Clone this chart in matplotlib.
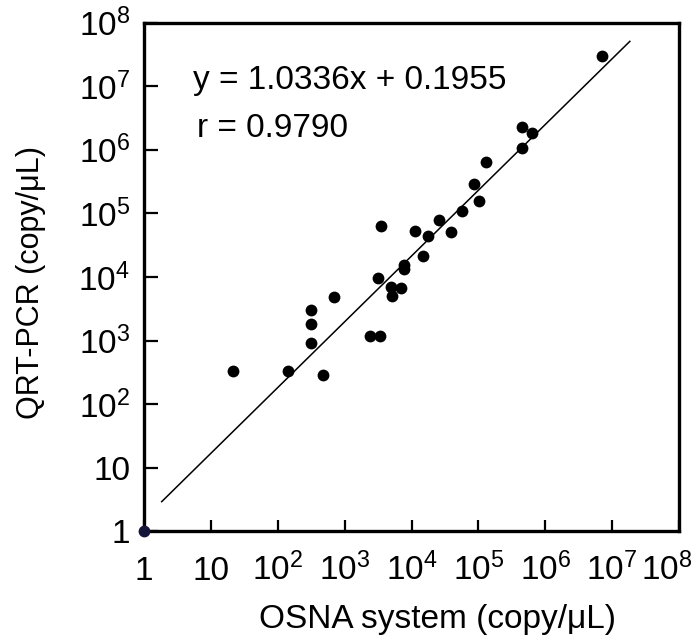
import matplotlib
matplotlib.use("Agg")
import matplotlib.pyplot as plt
import numpy as np

plt.rcParams['font.family'] = ['Liberation Sans', 'DejaVu Sans']
plt.rcParams['mathtext.fontset'] = 'custom'
plt.rcParams['mathtext.rm'] = 'Liberation Sans'
plt.rcParams['mathtext.it'] = 'Liberation Sans'

# Data (copy/uL)
osna = [21.6, 141, 310, 310, 310, 479, 686, 2420, 3400, 3110,
        3490, 4880, 6870, 5040, 7690, 7690, 14700, 11400, 17800, 25400,
        39300, 56600, 101000, 86500, 128000, 443000, 443000, 637000, 7.1e6]
qrt = [334, 334, 3040, 1810, 931, 289, 4810, 1190, 1190, 9680,
       64300, 7060, 6670, 5050, 15500, 13200, 21500, 53700, 44300, 79100,
       51800, 108000, 159000, 291000, 652000, 1060000, 2260000, 1820000, 3.03e7]
origin_pt = [1.0]

# Regression line (log10 y = slope*log10 x + intercept)
slope = 1.0336
intercept = 0.1955
line_x = [1.84, 1.84e7]
line_y = [10 ** (slope * np.log10(v) + intercept) for v in line_x]

tick_vals = [1, 10, 1e2, 1e3, 1e4, 1e5, 1e6, 1e7, 1e8]
tick_labels = ['1', '10', r'$\mathregular{10^2}$', r'$\mathregular{10^3}$',
               r'$\mathregular{10^4}$', r'$\mathregular{10^5}$',
               r'$\mathregular{10^6}$', r'$\mathregular{10^7}$',
               r'$\mathregular{10^8}$']

FS = 24

fig = plt.figure(figsize=(6.93, 6.44), dpi=100)
ax = fig.add_axes([0.2078, 0.1747, 0.7720, 0.7903])
ax.set_xscale('log')
ax.set_yscale('log')
ax.set_xlim(1, 1e8)
ax.set_ylim(1, 1e8)

ax.plot(line_x, line_y, color='black', lw=1.1)
ax.plot(osna, qrt, 'o', color='black', markersize=8.5, markeredgewidth=0)
ax.plot(origin_pt, origin_pt, 'o', color='#15153a', markersize=8.5,
        markeredgewidth=0, clip_on=False, zorder=5)

ax.set_xticks(tick_vals)
ax.set_xticklabels(tick_labels[:-1] + [''])
ax.set_yticks(tick_vals)
ax.set_yticklabels(tick_labels)
ax.minorticks_off()

for s in ax.spines.values():
    s.set_linewidth(2.4)

XPAD = 35
ax.tick_params(axis='x', direction='in', length=8, width=1.6, labelsize=FS, pad=XPAD)
ax.tick_params(axis='y', direction='in', length=10, width=1.6, labelsize=FS, pad=10)
for lab in ax.get_xticklabels():
    lab.set_verticalalignment('baseline')

# last x tick label sits slightly left of its tick in the original
ax.annotate(tick_labels[-1], xy=(tick_vals[-1], 0), xycoords=('data', 'axes fraction'),
            xytext=(-9, -XPAD), textcoords='offset points',
            ha='center', va='baseline', fontsize=FS, annotation_clip=False)

ax.text(0.0916, 0.887, 'y = 1.0336x + 0.1955', transform=ax.transAxes,
        fontsize=FS, ha='left', va='center')
ax.text(0.0991, 0.791, 'r = 0.9790', transform=ax.transAxes,
        fontsize=FS, ha='left', va='center')

ax.set_xlabel('OSNA system (copy/μL)', fontsize=FS)
ax.xaxis.set_label_coords(0.548, -0.143)
ax.set_ylabel('QRT-PCR (copy/μL)', fontsize=22)
ax.yaxis.set_label_coords(-0.239, 0.49)
ax.yaxis.label.set_verticalalignment('top')

fig.savefig('out.png', dpi=100)
